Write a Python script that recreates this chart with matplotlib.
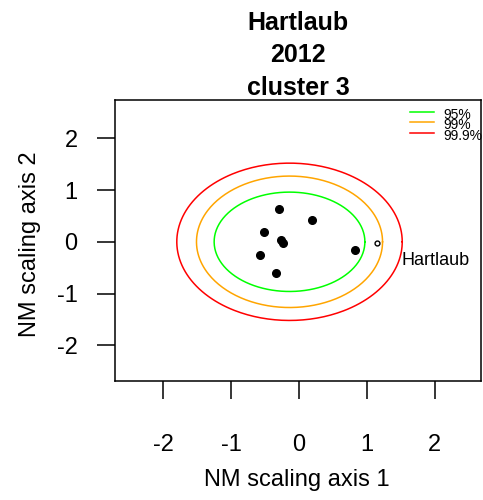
import numpy as np
import matplotlib
matplotlib.use("Agg")
import matplotlib.pyplot as plt

plt.rcParams['font.family'] = ['Liberation Sans', 'DejaVu Sans']
plt.rcParams['axes.unicode_minus'] = False

# site scores on the two NMDS axes (cluster 3, 2012)
pts_x = [-0.29, 0.195, -0.51, -0.27, -0.24, -0.57, 0.82, -0.34]
pts_y = [0.625, 0.43, 0.19, 0.03, -0.03, -0.26, -0.16, -0.61]
# the site of interest
site_name = "Hartlaub"
site_x = 1.15
site_y = -0.02

# confidence ellipses (centre + semi axes)
ell_levels = ["95%", "99%", "99.9%"]
ell_colors = ["#00ff00", "#ffa500", "#ff0000"]
ell_cx = -0.14
ell_cy = 0.0
ell_rx = [1.11, 1.37, 1.66]
ell_ry = [0.96, 1.27, 1.52]

xticks = [-2, -1, 0, 1, 2]
yticks = [-2, -1, 0, 1, 2]

fig = plt.figure(figsize=(4.83, 5.0), dpi=100)
ax = fig.add_axes([115/483, 1-381/500, 366/483, 281/500])

t = np.linspace(0, 2*np.pi, 300)
for rx, ry, c in zip(ell_rx, ell_ry, ell_colors):
    ax.plot(ell_cx + rx*np.cos(t), ell_cy + ry*np.sin(t), color=c, lw=1.1)

ax.plot(pts_x, pts_y, 'o', color='black', ms=5.5)
ax.plot([site_x], [site_y], 'o', mfc='none', mec='black', ms=3.5, mew=1)
ax.text(site_x + 0.36, site_y - 0.35, site_name, fontsize=13, va='center', ha='left')

ax.set_xlim(-2.71, 2.68)
ax.set_ylim(-2.69, 2.74)
ax.set_xticks(xticks)
ax.set_yticks(yticks)
ax.tick_params(direction='out', length=13, width=1.1, labelsize=17)
ax.tick_params(axis='x', pad=25)
ax.tick_params(axis='y', pad=14)
for s in ax.spines.values():
    s.set_linewidth(1.1)

# legend, packed tight like the R one
leg_y = [0.957, 0.921, 0.882]
for lab, c, yy in zip(ell_levels, ell_colors, leg_y):
    ax.plot([0.806, 0.872], [yy, yy], color=c, lw=1.1, transform=ax.transAxes, clip_on=False)
    ax.text(0.896, yy - 0.01, lab, fontsize=10, va='center', ha='left', transform=ax.transAxes)

ax.set_title("Hartlaub\n2012\ncluster 3", fontsize=18, fontweight='bold', linespacing=1.45, pad=3)
fig.text(297/483, 1-480/500, "NM scaling axis 1", fontsize=17, ha='center', va='center')
fig.text(30/483, 1-244/500, "NM scaling axis 2", fontsize=17, ha='center', va='center', rotation=90)

fig.savefig("out.png", dpi=100)
